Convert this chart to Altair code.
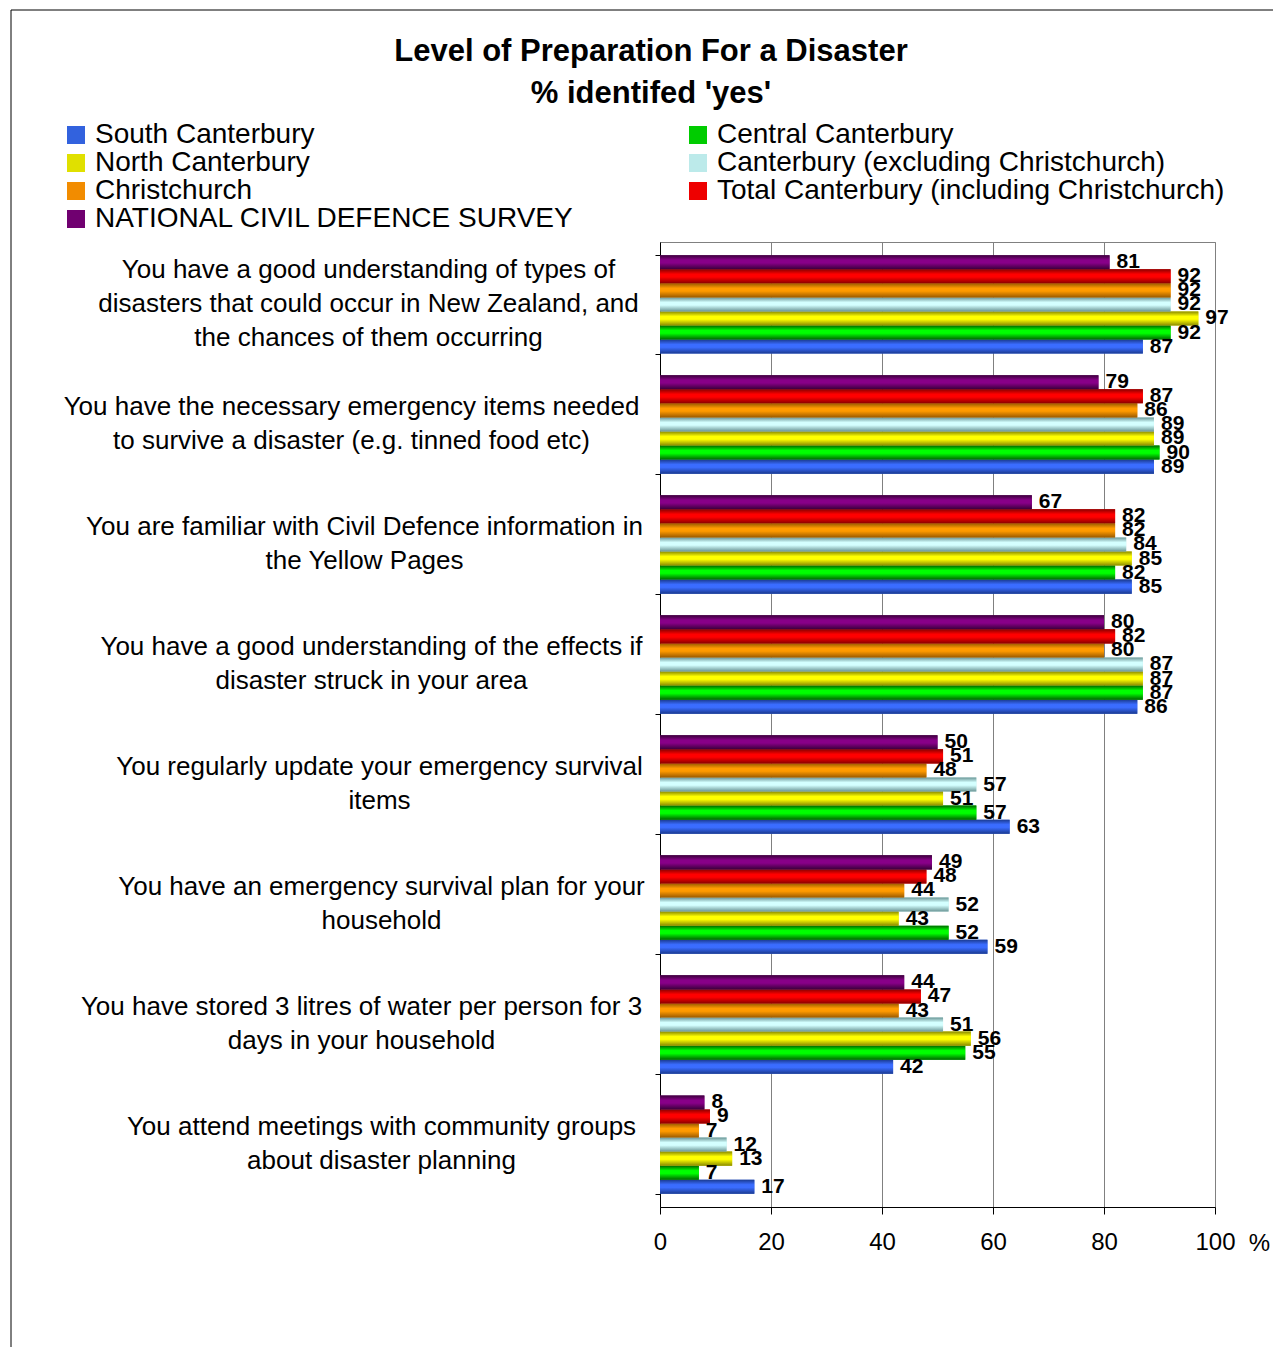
import altair as alt
import pandas as pd

categories = [
    "You have a good understanding of types of|disasters that could occur in New Zealand, and|the chances of them occurring",
    "You have the necessary emergency items needed|to survive a disaster (e.g. tinned food etc)",
    "You are familiar with Civil Defence information in|the Yellow Pages",
    "You have a good understanding of the effects if|disaster struck in your area",
    "You regularly update your emergency survival|items",
    "You have an emergency survival plan for your|household",
    "You have stored 3 litres of water per person for 3|days in your household",
    "You attend meetings with community groups|about disaster planning",
]

series = [
    "South Canterbury",
    "Central Canterbury",
    "North Canterbury",
    "Canterbury (excluding Christchurch)",
    "Christchurch",
    "Total Canterbury (including Christchurch)",
    "NATIONAL CIVIL DEFENCE SURVEY",
]

south = [87, 89, 85, 86, 63, 59, 42, 17]
central = [92, 90, 82, 87, 57, 52, 55, 7]
north = [97, 89, 85, 87, 51, 43, 56, 13]
cant_excl = [92, 89, 84, 87, 57, 52, 51, 12]
chch = [92, 86, 82, 80, 48, 44, 43, 7]
total = [92, 87, 82, 82, 51, 48, 47, 9]
national = [81, 79, 67, 80, 50, 49, 44, 8]

x_ticks = [0, 20, 40, 60, 80, 100]

title_line1 = "Level of Preparation For a Disaster"
title_line2 = "% identifed 'yes'"

flat_colors = ["#3262DE", "#00CC00", "#E0E000", "#BCEAEA", "#F28C00", "#EE0000", "#700070"]
edge_colors = ["#1A3A90", "#006600", "#8A8A00", "#6A9494", "#9A5A00", "#8A0000", "#3A003A"]
mid_colors = ["#3A6CFF", "#00FF00", "#FFFF00", "#D4FFFF", "#FF9A00", "#FF0000", "#880088"]

values = [south, central, north, cant_excl, chch, total, national]
rows = []
for s, vals in zip(series, values):
    for c, v in zip(categories, vals):
        rows.append({"category": c, "series": s, "value": v})
df = pd.DataFrame(rows)

offset_order = list(reversed(series))
FONT = "Liberation Sans"

# per-label styling: key phrase -> label padding (block centre differs per label)
label_keys = ["types of", "necessary", "familiar", "effects if",
              "regularly", "survival plan", "stored 3", "attend meetings"]
label_pads = [287, 304, 291, 284, 276, 274, 294, 274]
pad_conditions = [
    {"test": f"isObject(datum) && indexof(datum.value + '', '{k}') >= 0", "value": p}
    for k, p in zip(label_keys, label_pads)
]
off_condition = {
    "test": "isObject(datum) && length(split(datum.value + '', '|')) > 2",
    "value": -35,
}

y_enc = alt.Y(
    "category:N",
    sort=categories,
    scale=alt.Scale(paddingInner=0.18, paddingOuter=0.11),
    axis=alt.Axis(
        title=None,
        labelExpr="split(datum.label, '|')",
        labelAlign="center",
        labelBaseline="middle",
        labelPadding={"condition": pad_conditions, "value": 290},
        labelOffset={"condition": off_condition, "value": -18},
        labelFontSize=26,
        labelFont=FONT,
        labelColor="black",
        labelLineHeight=34,
        labelLimit=0,
        tickBand="extent",
        tickSize=5,
        tickColor="black",
        domainColor="black",
        grid=False,
    ),
)
yoff_enc = alt.YOffset("series:N", sort=offset_order, scale=alt.Scale(domain=offset_order))
x_enc = alt.X(
    "value:Q",
    scale=alt.Scale(domain=[0, 100], nice=False),
    axis=alt.Axis(
        values=x_ticks,
        title="%",
        titleX=599,
        titleY=24,
        titleBaseline="top",
        titleFontSize=24,
        titleFontWeight="normal",
        titleFont=FONT,
        titleAngle=0,
        labelFontSize=24,
        labelFont=FONT,
        labelColor="black",
        labelPadding=16,
        labelFlush=False,
        tickSize=7,
        tickColor="black",
        domainColor="black",
        grid=True,
        gridColor="#808080",
        gridWidth=1,
    ),
)

base = alt.Chart(df)

flat_bars = base.mark_bar().encode(
    y=y_enc,
    yOffset=yoff_enc,
    x=x_enc,
    color=alt.Color(
        "series:N",
        scale=alt.Scale(domain=series, range=flat_colors),
        legend=alt.Legend(
            orient="none",
            legendX=-598,
            legendY=-121,
            direction="horizontal",
            columns=2,
            columnPadding=109,
            rowPadding=0,
            symbolType="square",
            symbolSize=324,
            symbolStrokeWidth=0,
            labelFontSize=28,
            labelFont=FONT,
            labelColor="black",
            labelOffset=5,
            labelLimit=0,
            title=None,
            padding=0,
        ),
    ),
)

grad_layers = []
for s, e, m in zip(series, edge_colors, mid_colors):
    grad = alt.LinearGradient(
        gradient="linear",
        x1=0, x2=0, y1=0, y2=1,
        stops=[
            alt.GradientStop(color=e, offset=0),
            alt.GradientStop(color=m, offset=0.35),
            alt.GradientStop(color=m, offset=0.55),
            alt.GradientStop(color=e, offset=1),
        ],
    )
    grad_layers.append(
        base.transform_filter(alt.datum.series == s)
        .mark_bar(fill=grad)
        .encode(y=y_enc, yOffset=yoff_enc, x=x_enc)
    )

labels = base.mark_text(
    align="left", baseline="middle", dx=7, dy=0,
    fontSize=21, fontWeight="bold", font=FONT, color="black",
).encode(y=y_enc, yOffset=yoff_enc, x=x_enc, text="value:Q")

one = pd.DataFrame({"k": [0]})
title_a = alt.Chart(one).mark_text(
    align="center", baseline="alphabetic", fontSize=31, fontWeight="bold",
    font=FONT, color="black",
).encode(x=alt.value(-9), y=alt.value(-181), text=alt.value(title_line1))
title_b = alt.Chart(one).mark_text(
    align="center", baseline="alphabetic", fontSize=31, fontWeight="bold",
    font=FONT, color="black",
).encode(x=alt.value(-9), y=alt.value(-139), text=alt.value(title_line2))

frame_left = alt.Chart(one).mark_rule(color="black", strokeWidth=1).encode(
    x=alt.value(-649), y=alt.value(-232), y2=alt.value(1105)
)
frame_top = alt.Chart(one).mark_rule(color="black", strokeWidth=1).encode(
    x=alt.value(-649), x2=alt.value(613), y=alt.value(-232)
)

chart = alt.layer(flat_bars, *grad_layers, labels, title_a, title_b, frame_left, frame_top).properties(
    width=555,
    height=965,
    autosize=alt.AutoSizeParams(type="none"),
    padding={"left": 652, "top": 234, "right": 58, "bottom": 140},
).configure_view(stroke="#808080", strokeWidth=1)

chart.save("out.html", embed_options={"renderer": "svg", "actions": False})
